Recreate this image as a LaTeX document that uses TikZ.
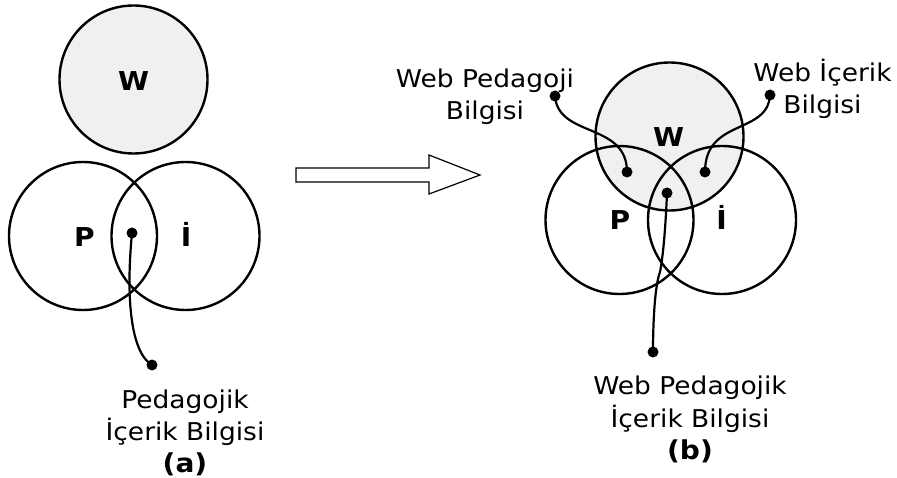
\documentclass[tikz,border=0pt]{standalone}
\usepackage{fontspec}
\setmainfont[FakeStretch=1.08]{DejaVu Sans}
\definecolor{wfill}{RGB}{240,240,240}
\begin{document}
\begin{tikzpicture}[x=1pt,y=-1pt,
  circ/.style={circle, draw, line width=2.4pt, inner sep=0pt, outer sep=0pt, minimum size=148pt},
  lbl/.style={font=\fontsize{26}{32}\selectfont\bfseries, anchor=base, inner sep=0pt},
  txt/.style={font=\fontsize{24.5}{32}\selectfont, anchor=base, inner sep=0pt},
  conn/.style={line width=2.2pt},
  dotn/.style={circle, fill=black, inner sep=0pt, minimum size=11pt},
  bigarrow/.style={draw, line width=1.2pt, fill=white, line join=miter}]
\useasboundingbox (0,0) rectangle (897,478);

% ---------- (a) ----------
\node[circ, fill=wfill] (Wa) at (133.5,79.5) {};
\node[circ] (Pa) at (83,236) {};
\node[circ] (Ia) at (185.5,236) {};
\node[lbl] (Wal) at (133.5,91) {W};
\node[lbl] (Pal) at (84.5,247) {P};
\node[lbl] (Ial) at (186,247) {İ};

\node[dotn] (da1) at (132,233) {};
\node[dotn] (da2) at (152,365) {};
\draw[conn] (da1.center) .. controls (126,295) and (130,352) .. (da2.center);

\node[txt] (ta1) at (185,408) {Pedagojik};
\node[txt] (ta2) at (185,440) {İçerik Bilgisi};
\node[lbl] (ta3) at (185,472) {(a)};

% ---------- arrow ----------
\draw[bigarrow] (296,168) -- (429,168) -- (429,155) -- (480,175) -- (429,194) -- (429,182) -- (296,182) -- cycle;

% ---------- (b) ----------
\node[circ, fill=wfill] (Wb) at (669.5,136.5) {};
\node[circ] (Pb) at (619.5,220) {};
\node[circ] (Ib) at (722,220) {};
\node[lbl] (Wbl) at (668.5,147) {W};
\node[lbl] (Pbl) at (620,230) {P};
\node[lbl] (Ibl) at (721.5,230) {İ};

% Web Pedagoji Bilgisi
\node[dotn] (db1o) at (555,96) {};
\node[dotn] (db1i) at (627,172) {};
\draw[conn] (db1o.center) .. controls (558,138) and (627,122) .. (db1i.center);
\node[txt] (tb1a) at (485,88) {Web Pedagoji};
\node[txt] (tb1b) at (485,120) {Bilgisi};

% Web Icerik Bilgisi
\node[dotn] (db2o) at (770,95) {};
\node[dotn] (db2i) at (705,172) {};
\draw[conn] (db2o.center) .. controls (768,135) and (705,118) .. (db2i.center);
\node[txt] (tb2a) at (822.5,82) {Web İçerik};
\node[txt] (tb2b) at (822.5,114) {Bilgisi};

% Web Pedagojik Icerik Bilgisi
\node[dotn] (db3i) at (667,193) {};
\node[dotn] (db3o) at (653,352) {};
\draw[conn] (db3i.center) .. controls (665,240) and (662,262) .. (660,272) .. controls (655,285) and (653,320) .. (db3o.center);
\node[txt] (tb3a) at (690,394) {Web Pedagojik};
\node[txt] (tb3b) at (690,427) {İçerik Bilgisi};
\node[lbl] (tb3c) at (690,459) {(b)};
\end{tikzpicture}
\end{document}
